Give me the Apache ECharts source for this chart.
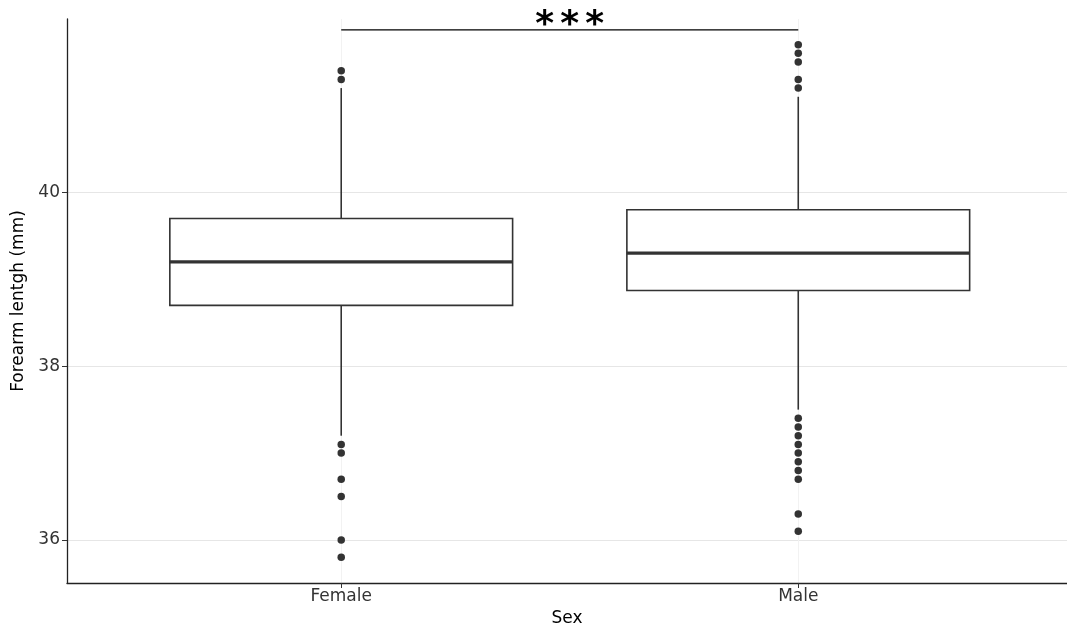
<!DOCTYPE html>
<html>
<head>
<meta charset="utf-8">
<script src="https://cdn.jsdelivr.net/npm/echarts@6/dist/echarts.min.js"></script>
<style>html,body{margin:0;padding:0;background:#fff;}#c{width:1067px;height:632px;}</style>
</head>
<body>
<div id="c"></div>
<script>
// ---- data ----
const categories = ['Female', 'Male'];
const lowerWhisker = [37.2, 37.5];
const q1 = [38.7, 38.87];
const median = [39.2, 39.3];
const q3 = [39.7, 39.8];
const upperWhisker = [41.2, 41.1];
const femaleOutliers = [41.4, 41.3, 37.1, 37.0, 36.7, 36.5, 36.0, 35.8];
const maleOutliers = [41.7, 41.6, 41.5, 41.3, 41.2, 37.4, 37.3, 37.2, 37.1, 37.0, 36.9, 36.8, 36.7, 36.3, 36.1];
const yTicks = [36, 38, 40];
const sigLevel = 41.87;
const sigLabel = ['*', '*', '*'];

const FONT = 'DejaVu Sans';
const boxData = categories.map((c, i) => [i + 1, lowerWhisker[i], q1[i], median[i], q3[i], upperWhisker[i]]);
const outlierData = [];
femaleOutliers.forEach(v => outlierData.push([1, v]));
maleOutliers.forEach(v => outlierData.push([2, v]));

const chart = echarts.init(document.getElementById('c'), null, {renderer: 'canvas'});
chart.setOption({
  animation: false,
  backgroundColor: '#ffffff',
  grid: {left: 67, top: 19, right: 0, bottom: 49, containLabel: false},
  xAxis: {
    type: 'value', min: 0.4, max: 2.588,
    name: 'Sex', nameLocation: 'middle', nameGap: 27,
    nameTextStyle: {fontFamily: FONT, fontSize: 17, color: '#000'},
    axisLine: {show: true, onZero: false, lineStyle: {color: '#222', width: 1.3}},
    axisTick: {show: true, customValues: [1, 2], length: 5, lineStyle: {color: '#333', width: 1}},
    axisLabel: {customValues: [1, 2], formatter: v => categories[Math.round(v) - 1] || '', fontFamily: FONT, fontSize: 17, color: '#333', margin: 5},
    splitLine: {show: true, lineStyle: {color: '#f2f2f2', width: 1}}
  },
  yAxis: {
    type: 'value', min: 35.505, max: 41.995,
    name: 'Forearm lentgh (mm)', nameLocation: 'middle', nameGap: 37,
    nameTextStyle: {fontFamily: FONT, fontSize: 17, color: '#000'},
    axisLine: {show: true, onZero: false, lineStyle: {color: '#222', width: 1.3}},
    axisTick: {show: true, customValues: yTicks, length: 5, lineStyle: {color: '#333', width: 1}},
    axisLabel: {customValues: yTicks, fontFamily: FONT, fontSize: 17, color: '#333', margin: 7},
    splitLine: {show: true, lineStyle: {color: '#e6e6e6', width: 1}}
  },
  series: [
    {
      type: 'custom',
      data: boxData,
      renderItem: function (params, api) {
        const x = api.value(0);
        const half = 0.375;
        const pLow = api.coord([x, api.value(1)]);
        const pQ1 = api.coord([x, api.value(2)]);
        const pMed = api.coord([x, api.value(3)]);
        const pQ3 = api.coord([x, api.value(4)]);
        const pHigh = api.coord([x, api.value(5)]);
        const xl = api.coord([x - half, api.value(3)])[0];
        const xr = api.coord([x + half, api.value(3)])[0];
        const stroke = '#333333';
        return {
          type: 'group',
          children: [
            {type: 'line', shape: {x1: pHigh[0], y1: pHigh[1], x2: pQ3[0], y2: pQ3[1]}, style: {stroke: stroke, lineWidth: 1.6}},
            {type: 'line', shape: {x1: pQ1[0], y1: pQ1[1], x2: pLow[0], y2: pLow[1]}, style: {stroke: stroke, lineWidth: 1.6}},
            {type: 'rect', shape: {x: xl, y: pQ3[1], width: xr - xl, height: pQ1[1] - pQ3[1]}, style: {fill: '#ffffff', stroke: stroke, lineWidth: 1.6}},
            {type: 'line', shape: {x1: xl, y1: pMed[1], x2: xr, y2: pMed[1]}, style: {stroke: stroke, lineWidth: 3.2}}
          ]
        };
      },
      z: 2
    },
    {
      type: 'scatter',
      data: outlierData,
      symbol: 'circle', symbolSize: 7.5,
      itemStyle: {color: '#333333', opacity: 1},
      z: 3
    },
    {
      type: 'custom',
      data: [[1, 2, sigLevel]],
      renderItem: function (params, api) {
        const p1 = api.coord([api.value(0), api.value(2)]);
        const p2 = api.coord([api.value(1), api.value(2)]);
        const cx = (p1[0] + p2[0]) / 2;
        const children = [
          {type: 'line', shape: {x1: p1[0], y1: p1[1], x2: p2[0], y2: p2[1]}, style: {stroke: '#000', lineWidth: 1.3}}
        ];
        sigLabel.forEach((s, k) => {
          children.push({type: 'text', x: cx + (k - 1) * 25, y: p1[1] - 4.5, style: {text: s, fontFamily: FONT, fontSize: 36, fontWeight: 'bold', fill: '#000', align: 'center', verticalAlign: 'middle'}});
        });
        return {type: 'group', children: children};
      },
      z: 4
    }
  ]
});
</script>
</body>
</html>
